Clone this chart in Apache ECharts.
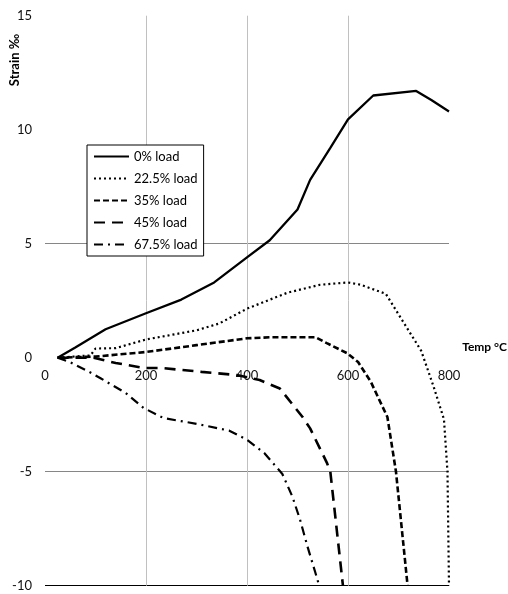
<!DOCTYPE html>
<html><head><meta charset="utf-8">
<script src="https://cdn.jsdelivr.net/npm/echarts@6/dist/echarts.min.js"></script>
<style>html,body{margin:0;padding:0;background:#fff}#c{width:508px;height:594px}</style>
</head><body><div id="c"></div>
<script>
var seriesNames = ['0% load', '22.5% load', '35% load', '45% load', '67.5% load'];
var xTicks = [0, 200, 400, 600, 800];
var yTicks = [-10, -5, 0, 5, 10, 15];
var load0 = [[25,0],[60,0.45],[120,1.25],[200,1.95],[270,2.55],[335,3.3],[400,4.4],[445,5.15],[500,6.5],[525,7.8],[565,9.2],[600,10.45],[650,11.5],[735,11.7],[765,11.3],[800,10.8]];
var load225 = [[25,0],[90,0.1],[100,0.4],[140,0.42],[200,0.8],[300,1.2],[345,1.5],[400,2.15],[480,2.85],[545,3.2],[600,3.3],[625,3.2],[675,2.8],[710,1.55],[745,0.3],[770,-1.3],[790,-2.7],[797,-5],[800,-10]];
var load35 = [[25,0],[100,0.05],[200,0.25],[300,0.55],[400,0.85],[450,0.9],[535,0.9],[558,0.64],[598,0.2],[620,-0.19],[645,-1.05],[678,-2.6],[695,-5],[718,-10]];
var load45 = [[25,0],[95,0],[140,-0.23],[195,-0.45],[230,-0.45],[310,-0.62],[380,-0.76],[425,-0.98],[465,-1.35],[510,-2.6],[525,-3.1],[558,-4.6],[565,-5.0],[590,-10]];
var load675 = [[25,0],[50,-0.2],[90,-0.65],[110,-0.9],[160,-1.55],[195,-2.2],[235,-2.65],[300,-2.9],[365,-3.2],[400,-3.6],[435,-4.2],[470,-5.1],[490,-6.1],[505,-7.1],[520,-8.3],[535,-9.4],[543,-10]];

var FONT = 'Lato, "Liberation Sans", sans-serif';
var dataSets = [load0, load225, load35, load45, load675];
var styles = [
  {type: 'solid', width: 2.3},
  {type: [2, 3], width: 2.2},
  {type: [6, 3], width: 2.6},
  {type: [11, 7], width: 2.6},
  {type: [9, 5, 2, 5], width: 2.2}
];
var T = 'rgba(0,0,0,0)';
var chart = echarts.init(document.getElementById('c'));
chart.setOption({
  animation: false,
  backgroundColor: '#fff',
  grid: {left: 45, right: 59, top: 15.7, bottom: 8.3, containLabel: false, outerBoundsMode: 'none'},
  xAxis: {
    type: 'value', min: xTicks[0], max: xTicks[xTicks.length - 1], interval: 200,
    position: 'bottom', offset: -228,
    axisLine: {show: false, onZero: false}, axisTick: {show: false},
    axisLabel: {color: '#111', fontFamily: FONT, fontSize: 13, margin: 12},
    splitLine: {show: true, lineStyle: {color: [T, '#c0c0c0', '#c0c0c0', '#c0c0c0', T], width: 1}}
  },
  yAxis: {
    type: 'value', min: yTicks[0], max: yTicks[yTicks.length - 1], interval: 5,
    axisLine: {show: false}, axisTick: {show: false},
    axisLabel: {color: '#111', fontFamily: FONT, fontSize: 13, margin: 13},
    splitLine: {show: true, lineStyle: {color: ['#000', '#868686', T, '#868686', T, T], width: 1}}
  },
  legend: {
    orient: 'vertical', left: 87, top: 145,
    padding: [5, 6, 5, 6], itemGap: 9, itemWidth: 35, itemHeight: 14,
    borderColor: '#000', borderWidth: 1, backgroundColor: '#fff',
    itemStyle: {opacity: 0},
    textStyle: {color: '#000', fontFamily: FONT, fontSize: 13},
    data: seriesNames
  },
  graphic: [
    {type: 'text', x: 507, y: 347, style: {text: 'Temp °C', fill: '#000', font: 'bold 12px ' + FONT, textAlign: 'right', textVerticalAlign: 'middle'}},
    {type: 'text', x: 15, y: 60, rotation: Math.PI / 2, style: {text: 'Strain ‰', fill: '#000', font: 'bold 13px ' + FONT, textAlign: 'center', textVerticalAlign: 'middle'}}
  ],
  series: seriesNames.map(function (n, i) {
    return {
      name: n, type: 'line', data: dataSets[i], symbol: 'none', showSymbol: false,
      color: '#000', z: 3,
      lineStyle: {color: '#000', width: styles[i].width, type: styles[i].type}
    };
  })
});
</script></body></html>
